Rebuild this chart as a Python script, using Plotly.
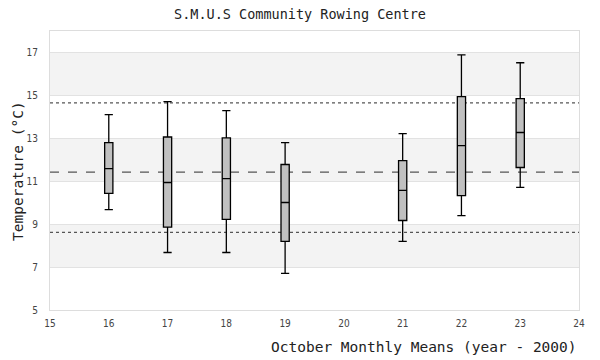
import plotly.graph_objects as go

years = [16, 17, 18, 19, 21, 22, 23]
upper_whisker = [14.10, 14.71, 14.29, 12.80, 13.22, 16.89, 16.52]
q3 = [12.80, 13.06, 13.02, 11.78, 11.96, 14.94, 14.85]
median = [11.59, 10.94, 11.12, 10.01, 10.57, 12.66, 13.27]
q1 = [10.43, 8.86, 9.22, 8.20, 9.17, 10.33, 11.64]
lower_whisker = [9.68, 7.68, 7.68, 6.71, 8.20, 9.40, 10.71]

overall_mean = 11.42
upper_limit = 14.65
lower_limit = 8.62

bands = [(7, 9), (11, 13), (15, 17)]
y_ticks = [5, 7, 9, 11, 13, 15, 17]
x_ticks = list(range(15, 25))

mono = "DejaVu Sans Mono"

fig = go.Figure()
fig.add_trace(go.Box(
    x=years, q1=q1, median=median, q3=q3,
    lowerfence=lower_whisker, upperfence=upper_whisker,
    fillcolor="#c0c0c0", line=dict(color="black", width=1.3),
    width=0.14, whiskerwidth=1, boxpoints=False, hoverinfo="skip",
    showlegend=False,
))

shapes = []
for lo, hi in bands:
    shapes.append(dict(type="rect", xref="paper", yref="y", x0=0, x1=1, y0=lo, y1=hi,
                       fillcolor="#f3f3f3", line=dict(width=0), layer="below"))
for yv, dash in [(upper_limit, "dot"), (overall_mean, "dash"), (lower_limit, "dot")]:
    shapes.append(dict(type="line", xref="paper", yref="y", x0=0, x1=1, y0=yv, y1=yv,
                       line=dict(color="#555555", width=1.2, dash=dash), layer="below"))

fig.update_layout(
    width=600, height=360,
    margin=dict(l=50, r=21, t=31, b=50, autoexpand=False),
    paper_bgcolor="white", plot_bgcolor="white",
    title=dict(text="S.M.U.S Community Rowing Centre", x=0.5, xanchor="center",
               y=1 - 14 / 360, yanchor="middle",
               font=dict(family=mono, size=13.5, color="#222222")),
    shapes=shapes,
    xaxis=dict(range=[15, 24], tickvals=x_ticks, showgrid=False, zeroline=False,
               showline=True, linecolor="#dddddd", mirror=True,
               ticks="outside", ticklen=4, tickcolor="rgba(0,0,0,0)",
               tickfont=dict(family="DejaVu Sans Condensed, DejaVu Sans", size=10, color="#444444")),
    yaxis=dict(range=[5, 18], tickvals=y_ticks, showgrid=True, gridcolor="#e2e2e2", gridwidth=1,
               zeroline=False, showline=True, linecolor="#dddddd", mirror=True,
               ticks="outside", ticklen=9, tickcolor="rgba(0,0,0,0)",
               tickfont=dict(family="DejaVu Sans Condensed, DejaVu Sans", size=10, color="#444444")),
    annotations=[
        dict(text="October Monthly Means (year - 2000)", xref="paper", yref="paper",
             x=1, y=-37 / 279, xanchor="right", yanchor="middle", showarrow=False,
             font=dict(family=mono, size=14.5, color="#222222")),
        dict(text="Temperature (°C)", xref="paper", yref="paper",
             x=(18 - 50) / 529, y=(310 - 171) / 279, xanchor="center", yanchor="middle",
             textangle=-90, showarrow=False,
             font=dict(family=mono, size=14.5, color="#222222")),
    ],
)

fig.write_html("out.html", config={"displayModeBar": False},
               post_script="document.body.style.margin='0';")
